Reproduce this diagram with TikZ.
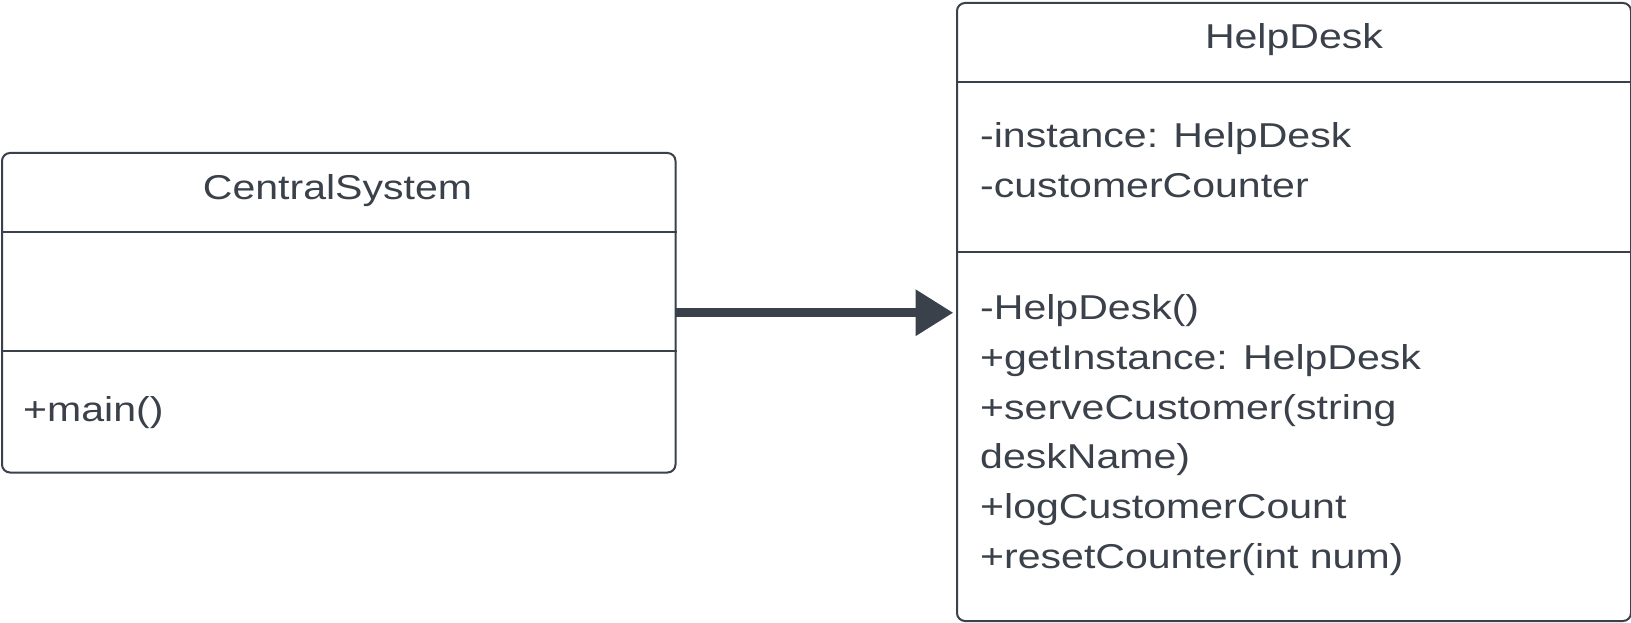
\documentclass[tikz,border=0pt]{standalone}
\usepackage{fontspec}
\setmainfont{Liberation Sans}[FakeStretch=1.19]
\usetikzlibrary{arrows.meta}
\definecolor{ink}{HTML}{3A414A}
\begin{document}
\begin{tikzpicture}[x=1pt,y=-1pt,
  classbox/.style={draw=ink, line width=2pt, rounded corners=8pt, inner sep=0pt, anchor=north west},
  divider/.style={draw=ink, line width=2pt},
  umltext/.style={font=\fontsize{34.5}{50}\selectfont},
  classtitle/.style={text=ink, inner sep=0pt, anchor=base, umltext},
  member/.style={text=ink, inner sep=0pt, anchor=base west, umltext},
  assoc/.style={draw=ink, line width=9pt, -{Triangle[length=37.6pt,width=44pt]}}]
\useasboundingbox (0,0) rectangle (1631,623);

% CentralSystem class
\node[classbox, minimum width=673.5pt, minimum height=319.5pt] (cs) at (1,152) {};
\draw[divider] ([yshift=-79.7pt]cs.north west) -- ([yshift=-79.7pt]cs.north east);
\draw[divider] ([yshift=-199pt]cs.north west) -- ([yshift=-199pt]cs.north east);
\node[classtitle] (cstitle) at (337.5,199.5) {CentralSystem};
\node[member] (csm1) at (23,421) {+main()};

% HelpDesk class
\node[classbox, minimum width=674pt, minimum height=618pt] (hd) at (956,2) {};
\draw[divider] ([yshift=-79.7pt]hd.north west) -- ([yshift=-79.7pt]hd.north east);
\draw[divider] ([yshift=-249.7pt]hd.north west) -- ([yshift=-249.7pt]hd.north east);
\node[classtitle] (hdtitle) at (1294,49) {HelpDesk};
\node[member] (hda1) at (980,148) {-instance: HelpDesk};
\node[member] (hda2) at (980,197.5) {-customerCounter};
\node[member] (hdm1) at (980,319.5) {-HelpDesk()};
\node[member] (hdm2) at (980,369.3) {+getInstance: HelpDesk};
\node[member] (hdm3) at (980,419.1) {+serveCustomer(string};
\node[member] (hdm4) at (980,468.9) {deskName)};
\node[member] (hdm5) at (980,518.7) {+logCustomerCount};
\node[member] (hdm6) at (980,568.5) {+resetCounter(int num)};

% association
\draw[assoc, shorten <=-2pt, shorten >=2.7pt] (cs.east) -- (cs.east -| hd.west);
\end{tikzpicture}
\end{document}
